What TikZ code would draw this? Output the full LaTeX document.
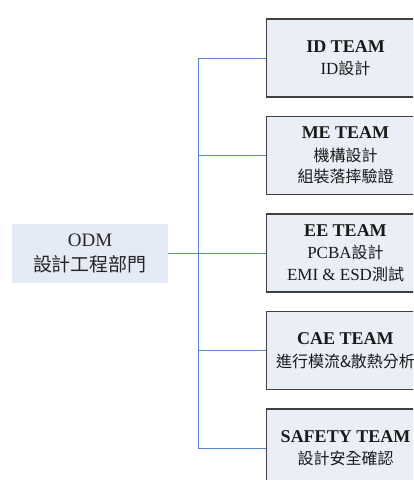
\documentclass[tikz,border=0pt]{standalone}
\usepackage{fontspec}
\setmainfont{Liberation Serif}
\newfontfamily\cjkfont{Noto Sans CJK TC}
% Chinese text in its own font, optionally at another size
\newcommand\zh[2][16]{{\cjkfont\fontsize{#1}{#1}\selectfont #2}}
% bold first line of a team box
\newcommand\ttl[1]{{\fontsize{18}{21.5}\selectfont\bfseries #1}}

\definecolor{linkblue}{RGB}{88,134,206}
\definecolor{boxfill}{RGB}{233,238,247}
\definecolor{rootfill}{RGB}{229,235,246}
\definecolor{boxline}{RGB}{64,64,64}

\begin{document}
\begin{tikzpicture}[x=1pt,y=-1pt,
  team/.style={draw=boxline, line width=1.3pt, fill=boxfill,
    minimum width=157.5pt, minimum height=78pt, inner sep=0pt,
    align=center, font=\fontsize{17}{21.5}\selectfont, text=black!90},
  root/.style={fill=rootfill, minimum width=156pt, minimum height=59pt,
    inner sep=0pt, align=center, font=\fontsize{19}{25}\selectfont,
    text=black!85},
  link/.style={draw=linkblue, line width=1pt}]

\useasboundingbox (0,0) rectangle (413,480);
\clip (0,0) rectangle (413,480);

% department
\node[root] (odm) at (90,253.5) {ODM\\\zh[19]{設計工程部門}};

% teams
\node[team] (id) at (345.5,58) {\ttl{ID TEAM}\\[1pt]ID\zh{設計}};
\node[team] (me) at (345.5,155.5) {\ttl{ME TEAM}\\[1pt]\zh{機構設計}\\\zh{組裝落摔驗證}};
\node[team] (ee) at (345.5,253) {\ttl{EE TEAM}\\[1pt]PCBA\zh{設計}\\EMI \& ESD\zh{測試}};
\node[team] (cae) at (345.5,350.5) {\ttl{CAE TEAM}\\[1pt]\zh{進行模流\&散熱分析}};
\node[team] (safety) at (345.5,448) {\ttl{SAFETY TEAM}\\[1pt]\zh{設計安全確認}};

% tree connectors
\coordinate (hub) at (198,253.5);
\draw[link] (odm.east) -- (hub);
\foreach \t in {id,me,ee,cae,safety}
  \draw[link] (hub) |- (\t.west);
\end{tikzpicture}
\end{document}
